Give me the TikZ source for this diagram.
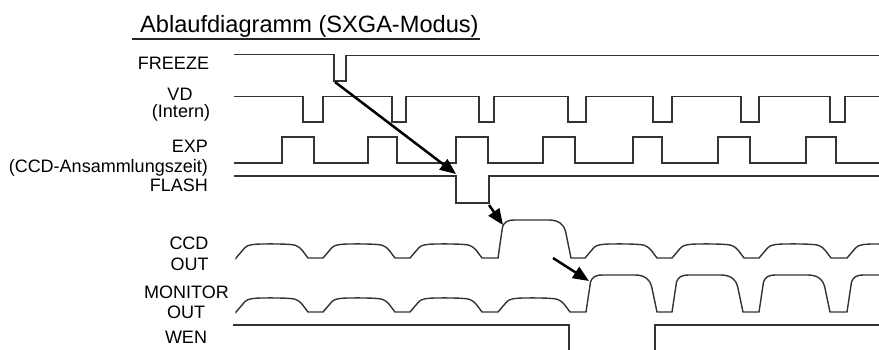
\documentclass[tikz,border=0pt]{standalone}
\usepackage{fontspec}
\setmainfont{Liberation Sans}
\usetikzlibrary{arrows.meta}
% normal rounded pulse: x0, low level
\newcommand\npulse[2]{-- ({#1},{#2}) -- ({#1+9},{#2-10.5}) .. controls ({#1+12},{#2-13.3}) and ({#1+17},{#2-13.8}) .. ({#1+25},{#2-14}) .. controls ({#1+40},{#2-14.2}) and ({#1+54},{#2-14}) .. ({#1+59},{#2-12.8}) .. controls ({#1+62},{#2-12}) and ({#1+64},{#2-10}) .. ({#1+66},{#2-8}) -- ({#1+72},{#2})}
% big pulse: x0, low level, amplitude, width
\newcommand\bpulse[4]{-- ({#1},{#2}) -- ({#1+4.5},{#2-#3+7}) .. controls ({#1+6.5},{#2-#3+2}) and ({#1+9},{#2-#3}) .. ({#1+17},{#2-#3}) -- ({#1+#4-22},{#2-#3}) .. controls ({#1+#4-12},{#2-#3}) and ({#1+#4-7},{#2-#3+5}) .. ({#1+#4-5.5},{#2-#3+11}) -- ({#1+#4},{#2})}
% square pulse: fall x, rise x, high y, low y
\newcommand\sqpulse[4]{-- (#1,#3) -- (#1,#4) -- (#2,#4) -- (#2,#3)}
\begin{document}
\begin{tikzpicture}[x=1bp,y=-1bp,
  wave/.style={line width=1.4bp,draw=black!80,line join=miter},
  conn/.style={line width=2.5bp,draw=black,-{Triangle[length=16bp,width=13bp]}},
  lab/.style={inner sep=0pt,font=\fontsize{18bp}{21bp}\selectfont},
  ttl/.style={inner sep=0pt,font=\fontsize{23.6bp}{27bp}\selectfont}]
\useasboundingbox (0,0) rectangle (879,349);
\fill[white] (0,0) rectangle (879,349);
% title
\node[ttl,anchor=base west] (title) at (140,32) {Ablaufdiagramm (SXGA-Modus)};
\coordinate (ulA) at (132,39);
\coordinate (ulB) at (480,39);
\draw[line width=1.4bp,black!85] (ulA) -- (ulB);
% labels
\node[lab,anchor=base] (lFreeze) at (173.5,69) {FREEZE};
\node[lab,anchor=base] (lVD) at (180,100) {VD};
\node[lab,anchor=base] (lIntern) at (181,117) {(Intern)};
\node[lab,anchor=base east] (lEXP) at (208,152) {EXP};
\node[lab,anchor=base east] (lCCDA) at (208,172) {(CCD-Ansammlungszeit)};
\node[lab,anchor=base east] (lFlash) at (208,191) {FLASH};
\node[lab,anchor=base] (lCCD) at (189,249) {CCD};
\node[lab,anchor=base] (lOut1) at (189.5,270) {OUT};
\node[lab,anchor=base] (lMon) at (186.5,298) {MONITOR};
\node[lab,anchor=base] (lOut2) at (186,318) {OUT};
\node[lab,anchor=base] (lWEN) at (186,343) {WEN};
% waveforms
\begin{scope}
\clip (0,0) rectangle (879,349);
% FREEZE
\draw[wave] (234,54.5) -- (334,54.5) -- (334,81) -- (346,81) -- (346,55.5) -- (879,55.5);
% VD
\draw[wave] (234,96.5) \sqpulse{303}{323}{96.5}{122} \sqpulse{392}{406}{96.5}{122}
  \sqpulse{479}{494}{96.5}{122} \sqpulse{568}{586}{96.5}{122} \sqpulse{653}{672}{96.5}{122}
  \sqpulse{741}{759}{96.5}{122} \sqpulse{830}{845}{96.5}{122} -- (879,96.5);
% EXP
\draw[wave] (234,163) \sqpulse{282}{314}{163}{137} \sqpulse{368}{397}{163}{137}
  \sqpulse{456}{488}{163}{137} \sqpulse{543}{575}{163}{137} \sqpulse{633}{662}{163}{137}
  \sqpulse{718}{750}{163}{137} \sqpulse{806}{836}{163}{137} -- (879,163);
% FLASH
\draw[wave] (234,176) -- (456,176) -- (456,203) -- (489,203) -- (489,176) -- (879,176);
% CCD OUT
\draw[wave] (236,257.5) \npulse{236}{258} \npulse{323}{258} \npulse{410}{258}
  \bpulse{498}{258}{38}{73} \npulse{585}{258} \npulse{672}{258} \npulse{759}{258} \npulse{847}{258};
% MONITOR OUT
\draw[wave] (236,311.5) \npulse{236}{312} \npulse{323}{312} \npulse{410}{312} \npulse{498}{312}
  \bpulse{586}{312}{37}{71} \bpulse{672}{312}{37}{71} \bpulse{759}{312}{37}{71} \bpulse{847}{312}{37}{71};
% WEN
\draw[wave] (233,325) -- (569,325) -- (569,352);
\draw[wave] (655,352) -- (655,325) -- (879,325);
\end{scope}
% arrows
\coordinate (a1s) at (335,82);
\coordinate (a1e) at (456,174);
\coordinate (a2s) at (489,205);
\coordinate (a2e) at (503,225);
\coordinate (a3s) at (553,258);
\coordinate (a3e) at (589,281);
\draw[conn] (a1s) -- (a1e);
\draw[conn] (a2s) -- (a2e);
\draw[conn] (a3s) -- (a3e);
\end{tikzpicture}
\end{document}
